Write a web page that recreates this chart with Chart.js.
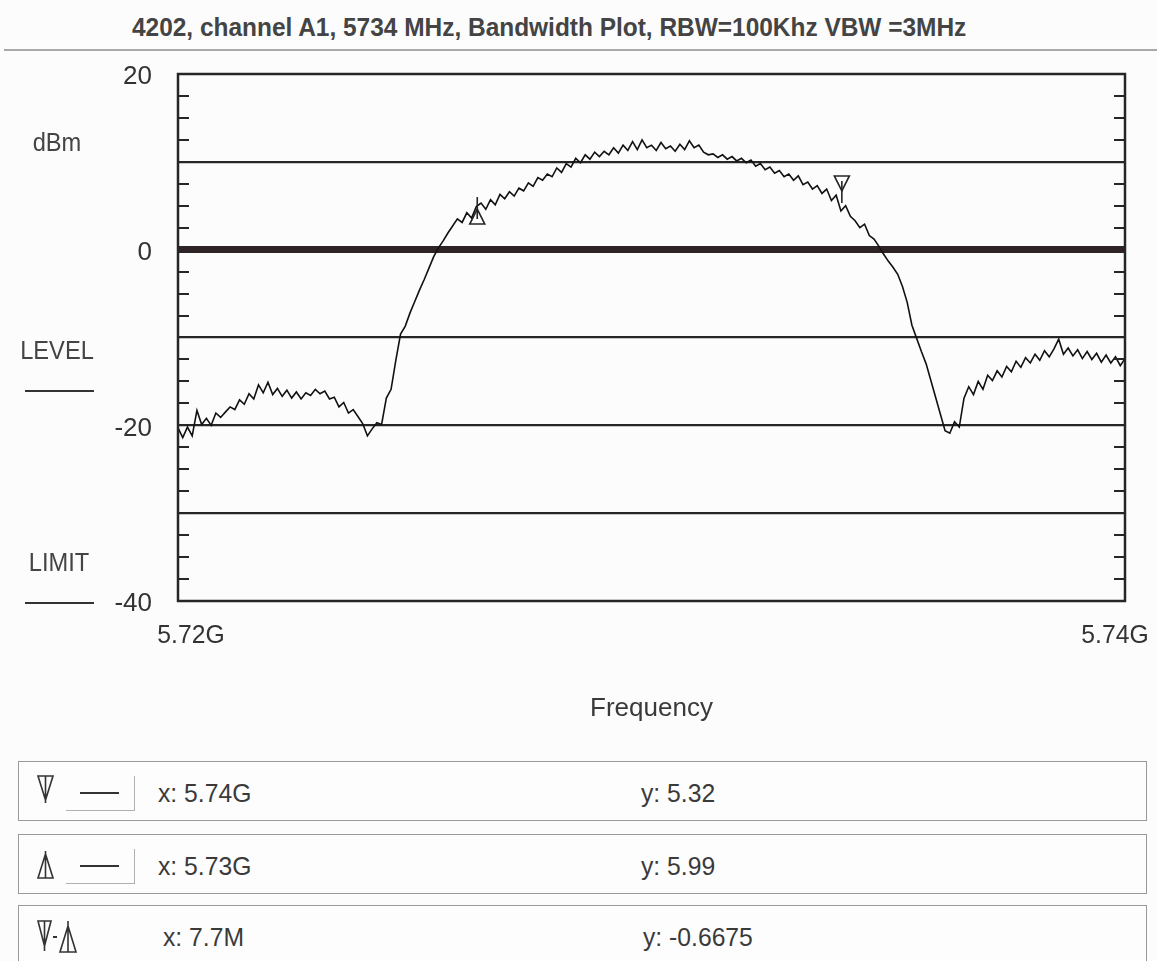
<!DOCTYPE html>
<html>
<head>
<meta charset="utf-8">
<script src="https://cdn.jsdelivr.net/npm/chart.js@4.4.0/dist/chart.umd.min.js"></script>
<style>
    body {
        margin: 0;
        width: 1157px;
        height: 961px;
        overflow: hidden;
        background: #fcfcfc;
        font-family: 'Liberation Sans', Arial, sans-serif;
        color: #333;
        position: relative;
    }
    .title {
        position: absolute;
        left: 132px;
        top: 12px;
        font-size: 26px;
        font-weight: bold;
        color: #444;
        white-space: nowrap;
        transform: scaleX(0.94);
        transform-origin: left center;
    }
    .title-rule {
        position: absolute;
        left: 4px;
        right: 0;
        top: 49px;
        height: 2px;
        background: #a8a8a8;
    }
    #chartWrap {
        position: absolute;
        left: 0;
        top: 0;
        width: 1157px;
        height: 740px;
    }
    .side {
        position: absolute;
        font-size: 26px;
        color: #444;
        transform: translate(-50%, -50%) scaleX(0.91);
        white-space: nowrap;
    }
    .side-line {
        position: absolute;
        left: 25px;
        width: 69px;
        height: 2px;
        background: #333;
    }
    .readout {
        position: absolute;
        left: 18px;
        width: 1127px;
        border: 1.5px solid #9a9a9a;
        background: #fdfdfd;
    }
    .readout .txt {
        position: absolute;
        font-size: 26px;
        color: #3a3a3a;
        transform: translateY(-50%) scaleX(0.95);
        transform-origin: left center;
        white-space: nowrap;
    }
    .readout svg {
        position: absolute;
    }
    .inset {
        position: absolute;
        left: 47px;
        top: 14px;
        width: 68px;
        height: 34px;
        border-right: 1.5px solid #b0b0b0;
        border-bottom: 1.5px solid #b0b0b0;
    }
    .inset span {
        position: absolute;
        left: 14px;
        top: 16px;
        width: 39px;
        height: 2px;
        background: #333;
    }
</style>
</head>
<body>
<div class="title">4202, channel A1, 5734 MHz, Bandwidth Plot, RBW=100Khz VBW =3MHz</div>
<div class="title-rule"></div>

<div id="chartWrap"><canvas id="bwChart"></canvas></div>

<div class="side" style="left:57px; top:142px;">dBm</div>
<div class="side" style="left:57px; top:350px;">LEVEL</div>
<div class="side-line" style="top:390px;"></div>
<div class="side" style="left:59px; top:562px;">LIMIT</div>
<div class="side-line" style="top:602px;"></div>

<div id="readouts"></div>

<script>
    // sweep settings (GHz) and trace, one reading every 0.1 MHz
    const sweepStart = 5.72;
    const sweepStop = 5.74;
    const levelDbm = [
        -20.3, -21.4, -20.2, -21.2, -18.3, -19.9, -19.2, -20.0, -18.6, -19.1,
        -18.5, -17.9, -18.2, -17.1, -17.6, -16.4, -17.0, -15.4, -16.3, -15.1,
        -16.5, -15.8, -16.7, -16.0, -16.9, -16.2, -17.0, -16.3, -16.6, -15.9,
        -16.4, -16.1, -17.0, -16.8, -17.9, -17.4, -18.6, -18.2, -19.0, -19.8,
        -21.2, -20.4, -19.7, -19.9, -16.9, -15.9, -12.6, -9.6, -8.7, -7.2,
        -5.9, -4.6, -3.4, -2.1, -0.8, 0.2, 1.0, 1.9, 2.7, 3.5,
        3.1, 4.2, 3.6, 4.9, 5.3, 4.6, 5.7, 5.1, 6.3, 5.8,
        6.6, 6.1, 7.0, 6.7, 7.6, 7.2, 8.2, 7.9, 8.6, 8.3,
        9.3, 8.8, 9.8, 9.4, 10.4, 9.9, 10.8, 10.3, 11.1, 10.6,
        11.2, 10.8, 11.6, 11.0, 11.9, 11.3, 12.3, 11.4, 12.5, 11.6,
        11.9, 11.3, 12.2, 11.5, 11.8, 11.2, 12.0, 11.4, 12.4, 11.6,
        11.9, 11.1, 10.8, 10.9, 10.5, 10.8, 10.3, 10.6, 10.1, 10.4,
        9.9, 10.2, 9.5, 9.8, 9.1, 9.4, 8.7, 9.0, 8.3, 8.6,
        7.9, 8.4, 7.4, 7.7, 6.9, 7.3, 6.4, 6.9, 5.6, 6.2,
        4.4, 5.0, 3.8, 3.3, 2.5, 2.9, 1.6, 1.2, 0.4, -0.5,
        -1.3, -2.0, -2.8, -4.2, -6.0, -8.6, -10.1, -11.6, -13.0, -14.9,
        -16.8, -18.7, -20.6, -20.9, -19.6, -20.2, -16.9, -15.6, -16.5, -15.0,
        -15.9, -14.3, -14.9, -13.8, -14.5, -13.3, -13.9, -12.7, -13.4, -12.3,
        -12.9, -11.9, -12.6, -11.5, -12.2, -11.3, -10.2, -11.9, -11.2, -12.1,
        -11.4, -12.4, -11.6, -12.5, -11.8, -12.8, -12.0, -12.9, -12.2, -13.2,
        -12.4
    ];

    // axis text
    const xTickLabels = ['5.72G', '5.74G'];
    const yLabelled = [20, 0, -20, -40];
    const yGridLevels = [10, 0, -10, -20, -30];

    // markers: [down, up]
    const markerFreq = [5.73402, 5.72632];
    const markerLevel = [5.32, 5.99];
    const markerShape = ['down', 'up'];
    const readoutX = ['x: 5.74G', 'x: 5.73G', 'x: 7.7M'];
    const readoutY = ['y: 5.32', 'y: 5.99', 'y: -0.6675'];

    const FONT = "'Liberation Sans', Arial, sans-serif";
    const INK = '#262626';

    const step = (sweepStop - sweepStart) / (levelDbm.length - 1);
    const trace = levelDbm.map((v, i) => ({ x: sweepStart + i * step, y: v }));

    // frame, inner minor ticks, sweep end labels and the two markers
    const plotDecor = {
        id: 'plotDecor',
        afterDatasetsDraw(chart) {
            const { ctx, chartArea: a, scales } = chart;
            const ys = scales.y;
            ctx.save();
            ctx.strokeStyle = INK;
            ctx.lineWidth = 2;
            ys.ticks.forEach(t => {
                if (t.value % 10 === 0) return;
                const py = Math.round(ys.getPixelForValue(t.value));
                ctx.beginPath();
                ctx.moveTo(a.left, py);
                ctx.lineTo(a.left + 11, py);
                ctx.moveTo(a.right, py);
                ctx.lineTo(a.right - 11, py);
                ctx.stroke();
            });
            ctx.lineWidth = 2.5;
            ctx.strokeRect(a.left, a.top, a.right - a.left, a.bottom - a.top);

            // start / stop frequency under the corners
            ctx.fillStyle = '#333';
            ctx.font = '26px ' + FONT;
            ctx.textAlign = 'center';
            ctx.textBaseline = 'middle';
            const fx = [scales.x.getPixelForValue(sweepStart) + 13, scales.x.getPixelForValue(sweepStop) - 10];
            fx.forEach((px, i) => {
                ctx.save();
                ctx.translate(px, a.bottom + 35);
                ctx.scale(0.95, 1);
                ctx.fillText(xTickLabels[i], 0, 0);
                ctx.restore();
            });

            ctx.lineWidth = 1.6;
            ctx.fillStyle = '#fff';
            markerFreq.forEach((f, i) => {
                const px = scales.x.getPixelForValue(f);
                const py = ys.getPixelForValue(markerLevel[i]);
                const d = markerShape[i] === 'down' ? -1 : 1;
                ctx.beginPath();
                ctx.moveTo(px, py);
                ctx.lineTo(px, py + d * 13);
                ctx.stroke();
                ctx.beginPath();
                ctx.moveTo(px, py + d * 12);
                ctx.lineTo(px - 7.5, py + d * 27);
                ctx.lineTo(px + 7.5, py + d * 27);
                ctx.closePath();
                ctx.fill();
                ctx.stroke();
                ctx.beginPath();
                ctx.moveTo(px, py + d * 12);
                ctx.lineTo(px, py + d * 22);
                ctx.stroke();
            });
            ctx.restore();
        }
    };

    Chart.defaults.font.family = FONT;
    Chart.defaults.font.size = 26;
    Chart.defaults.color = '#333';

    new Chart(document.getElementById('bwChart'), {
        type: 'line',
        data: {
            datasets: [{
                data: trace,
                borderColor: '#111',
                borderWidth: 1.6,
                pointRadius: 0,
                tension: 0
            }]
        },
        options: {
            responsive: true,
            maintainAspectRatio: false,
            animation: false,
            layout: { padding: { top: 74, right: 32, left: 0, bottom: 0 } },
            plugins: { legend: { display: false }, tooltip: { enabled: false } },
            scales: {
                x: {
                    type: 'linear',
                    min: sweepStart,
                    max: sweepStop,
                    afterBuildTicks: s => { s.ticks = [{ value: sweepStart }, { value: sweepStop }]; },
                    afterFit: s => { s.height = 139; s.paddingLeft = 0; s.paddingRight = 0; },
                    ticks: { display: false },
                    grid: { display: false, drawTicks: false },
                    border: { display: false },
                    title: {
                        display: true,
                        text: 'Frequency',
                        color: '#3a3a3a',
                        padding: { top: 0, bottom: 16 }
                    }
                },
                y: {
                    min: -40,
                    max: 20,
                    afterFit: s => { s.width = 178; s.paddingTop = 0; s.paddingBottom = 0; },
                    ticks: {
                        stepSize: 2.5,
                        autoSkip: false,
                        padding: 26,
                        labelOffset: 3,
                        callback: v => yLabelled.includes(v) ? String(v) : ''
                    },
                    grid: {
                        drawTicks: false,
                        color: c => yGridLevels.includes(c.tick.value) ? (c.tick.value === 0 ? '#2e2426' : INK) : 'rgba(0,0,0,0)',
                        lineWidth: c => c.tick.value === 0 ? 7 : 2.2
                    },
                    border: { display: false }
                }
            }
        },
        plugins: [plotDecor]
    });

    // marker readout rows under the plot
    const downIcon = '<path d="M1 1 H16 L8.5 25 Z M8.5 1 V28" fill="none" stroke="#333" stroke-width="1.6"/>';
    const upIcon = '<path d="M1 27 H16 L8.5 3 Z M8.5 0 V27" fill="none" stroke="#333" stroke-width="1.6"/>';
    const rowTops = [761, 834, 905];
    const rowHeights = [58, 58, 70];
    const holder = document.getElementById('readouts');
    rowTops.forEach((top, i) => {
        const box = document.createElement('div');
        box.className = 'readout';
        box.style.top = top + 'px';
        box.style.height = rowHeights[i] + 'px';
        let html = '';
        if (i < 2) {
            html += '<svg width="18" height="29" style="left:18px; top:' + (i === 0 ? 13 : 16) + 'px;">' + (i === 0 ? downIcon : upIcon) + '</svg>';
            html += '<div class="inset"><span></span></div>';
        } else {
            html += '<svg width="46" height="34" style="left:18px; top:14px;">' +
                '<path d="M1 1 H14 L7.5 26 Z M7.5 1 V31" fill="none" stroke="#333" stroke-width="1.6"/>' +
                '<path d="M16 17 H20" stroke="#333" stroke-width="2"/>' +
                '<path d="M23 32 H39 L31 6 Z M31 1 V32" fill="none" stroke="#333" stroke-width="1.6"/></svg>';
        }
        const xLeft = i < 2 ? 139 : 144;
        html += '<div class="txt" style="left:' + xLeft + 'px; top:31px;">' + readoutX[i] + '</div>';
        html += '<div class="txt" style="left:' + (i < 2 ? 622 : 624) + 'px; top:31px;">' + readoutY[i] + '</div>';
        box.innerHTML = html;
        holder.appendChild(box);
    });
</script>
</body>
</html>
